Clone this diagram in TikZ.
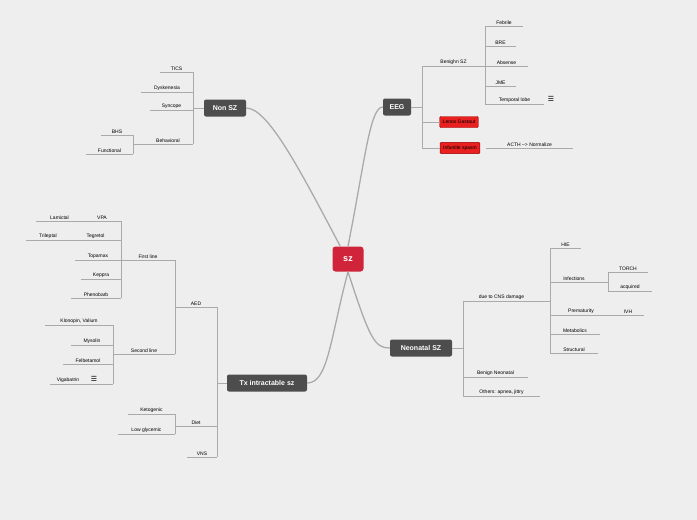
\documentclass[tikz,border=0pt]{standalone}
\usepackage{fontspec}
\setmainfont{Liberation Sans}
\newfontfamily\symfont{DejaVu Sans}
\definecolor{bgc}{HTML}{EEEEEE}
\definecolor{linec}{HTML}{AAAAAA}
\definecolor{topicc}{HTML}{4D4D4D}
\definecolor{rootc}{HTML}{D0243A}
\definecolor{alertc}{HTML}{E82020}
\newcommand\leaf[5]{%
  \draw[line] (#2,#4) -- (#3,#4);
  \node[leaftxt] (#1) at ({(#2+#3)/2},#4) {#5};}
\newcommand\vbar[3]{\draw[line] (#1,#2) -- (#1,#3);}
\begin{document}
\begin{tikzpicture}[x=1pt,y=-1pt,
line/.style = {draw=linec, line width=0.9pt},
leaftxt/.style = {anchor=south, font=\fontsize{5}{6}\selectfont, inner sep=1.5pt},
topic/.style = {fill=topicc, rounded corners=2pt, text=white, font=\bfseries\fontsize{7}{8}\selectfont, minimum height=17pt, inner xsep=5pt},
alert/.style = {fill=alertc, draw=red!60!black, rounded corners=1pt, font=\fontsize{5}{6}\selectfont, minimum height=11pt, inner xsep=3pt},
root/.style = {fill=rootc, rounded corners=3pt, text=white, font=\bfseries\fontsize{9}{10}\selectfont, minimum width=31pt, minimum height=25pt},
branch/.style = {draw=linec, line width=1.3pt},
]
\fill[bgc] (0,0) rectangle (697,520);
\useasboundingbox (0,0) rectangle (697,520);

% Main topics
\node[root] (sz) at (348,259) {sz};
\node[topic, minimum width=42pt] (nonsz) at (225,108) {Non SZ};
\node[topic, minimum width=28pt] (eeg) at (397,107) {EEG};
\node[topic, minimum width=62pt] (neo) at (421,348) {Neonatal SZ};
\node[topic, minimum width=80pt] (tx) at (267,383) {Tx intractable sz};

% Branches from root
\draw[branch] (sz.north west) ++(8,0) .. controls (300,170) and (268,108) .. (nonsz.east);
\draw[branch] (sz.north) .. controls (365,160) and (370,107) .. (eeg.west);
\draw[branch] (sz.south) .. controls (370,340) and (375,348) .. (neo.west);
\draw[branch] (sz.south) .. controls (330,340) and (328,383) .. (tx.east);

% Non SZ
\draw[line] (nonsz.west) -- (193,108);
\vbar{193}{72}{144}
\leaf{tics}{160}{193}{72}{TICS}
\leaf{dysk}{141}{193}{92}{Dyskenesia}
\leaf{sync}{150}{193}{110}{Syncope}
\leaf{behav}{143}{193}{144}{Behavioral}
\vbar{133}{135}{154}
\draw[line] (143,144) -- (133,144);
\leaf{bhs}{101}{133}{135}{BHS}
\leaf{func}{86}{133}{154}{Functional}

% EEG
\draw[line] (eeg.east) -- (422,107);
\vbar{422}{66}{148}
\leaf{benign}{422}{485}{66}{Benighn SZ}
\vbar{485}{26}{104}
\leaf{febr}{485}{523}{26}{Febrile}
\leaf{bre}{485}{516}{46}{BRE}
\leaf{abs}{485}{528}{66}{Absense}
\leaf{jme}{485}{516}{86}{JME}
\leaf{temp}{485}{544}{104}{Temporal lobe}
\node[font=\symfont\fontsize{7}{8}\selectfont] (tempnote) at (551,99) {☰};
\node[alert] (lenox) at (459,122) {Lenox Gastaut};
\node[alert] (infant) at (460,148) {Infantile spasm};
\draw[line] (422,122) -- (lenox.west);
\draw[line] (422,148) -- (infant.west);
\leaf{acth}{486}{573}{148}{ACTH --> Normalize}

% Neonatal SZ
\draw[line] (neo.east) -- (463,348);
\vbar{463}{301}{396}
\leaf{cns}{463}{540}{301}{due to  CNS damage}
\draw[line] (540,301) -- (550,301);
\vbar{550}{248}{353}
\leaf{hie}{550}{581}{248}{HIE}
\leaf{infec}{550}{598}{282}{Infections}
\draw[line] (598,282) -- (608,282);
\vbar{608}{272}{291}
\leaf{torch}{608}{648}{272}{TORCH}
\leaf{acq}{608}{652}{291}{acquired}
\leaf{prem}{550}{612}{315}{Prematurity}
\leaf{ivh}{612}{644}{315}{IVH}
\leaf{metab}{550}{600}{334}{Metabolics}
\leaf{struct}{550}{598}{353}{Structural}
\leaf{bneo}{463}{528}{377}{Benign Neonatal}
\leaf{others}{463}{540}{396}{Others: apnea, jittry}

% Tx intractable sz
\draw[line] (tx.west) -- (217,383);
\vbar{217}{307}{457}
\leaf{aed}{175}{217}{307}{AED}
\vbar{175}{260}{354}
\leaf{first}{121}{175}{260}{First line}
\leaf{second}{113}{175}{354}{Second line}
\vbar{121}{221}{298}
\leaf{vpa}{83}{121}{221}{VPA}
\leaf{lamic}{36}{83}{221}{Lamictal}
\leaf{tegr}{70}{121}{240}{Tegretol}
\leaf{trilep}{26}{70}{240}{Trileptal}
\leaf{topa}{75}{121}{260}{Topamax}
\leaf{kepp}{81}{121}{279}{Keppra}
\leaf{pheno}{71}{121}{298}{Phenobarb}
\vbar{113}{325}{384}
\leaf{klono}{45}{113}{325}{Klonopin, Valium}
\leaf{myso}{71}{113}{345}{Mysolin}
\leaf{felb}{63}{113}{364}{Felbetamol}
\draw[line] (50,384) -- (113,384);
\node[leaftxt] (viga) at (68,384) {Vigabatrin};
\node[font=\symfont\fontsize{7}{8}\selectfont] (viganote) at (94,379) {☰};
\leaf{diet}{175}{217}{426}{Diet}
\vbar{175}{414}{434}
\leaf{keto}{128}{175}{414}{Ketogenic}
\leaf{lowgly}{118}{175}{434}{Low glycemic}
\leaf{vns}{187}{217}{457}{VNS}
\end{tikzpicture}
\end{document}
